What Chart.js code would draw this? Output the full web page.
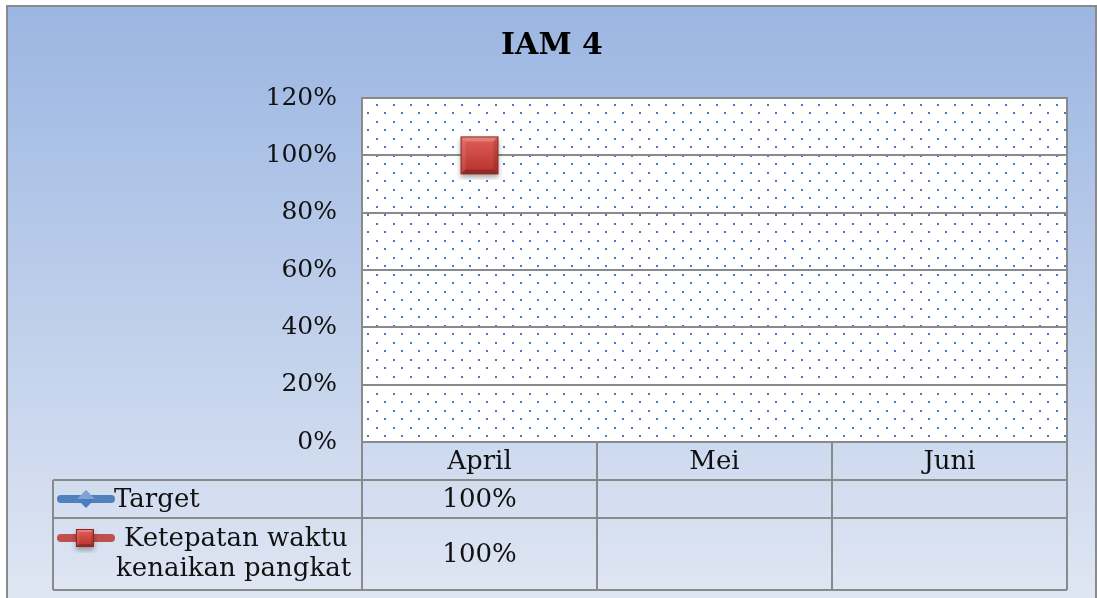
<!DOCTYPE html>
<html>
<head>
<meta charset="utf-8">
<script src="https://cdn.jsdelivr.net/npm/chart.js@4.4.1/dist/chart.umd.min.js"></script>
<style>
  html, body { margin: 0; padding: 0; background: #fff; }
  #wrap { width: 1097px; height: 598px; position: relative; }
</style>
</head>
<body>
<div id="wrap"><canvas id="iam4"></canvas></div>
<script>
// data
var chartTitle = "IAM 4";
var months = ["April", "Mei", "Juni"];
var targetValues = [100, null, null];
var ketepatanValues = [100, null, null];
var seriesNames = ["Target", ["Ketepatan waktu", "kenaikan pangkat"]];
var yTicks = [0, 20, 40, 60, 80, 100, 120];

var FONT = "'DejaVu Serif', serif";
var GRID = "#8a8a8a";
var BLUE = "rgb(79,129,189)";
var RED = "rgb(192,80,77)";

// bevelled red square marker
function redSquare(side) {
	var pad = 6;
	var c = document.createElement("canvas");
	c.width = side + pad * 2; c.height = side + pad * 2;
	var g = c.getContext("2d");
	g.save();
	g.shadowColor = "rgba(0,0,0,0.35)";
	g.shadowBlur = 5;
	g.shadowOffsetY = 3;
	g.fillStyle = "#c0392f";
	g.fillRect(pad, pad, side, side);
	g.restore();
	var grad = g.createLinearGradient(0, pad, 0, pad + side);
	grad.addColorStop(0, "#e0605a");
	grad.addColorStop(1, "#b8302c");
	g.fillStyle = grad;
	g.fillRect(pad, pad, side, side);
	var b = Math.max(2, Math.round(side / 7));
	// bevel edges
	g.fillStyle = "rgba(255,255,255,0.22)";
	g.beginPath(); g.moveTo(pad, pad); g.lineTo(pad + side, pad); g.lineTo(pad + side - b, pad + b); g.lineTo(pad + b, pad + b); g.closePath(); g.fill();
	g.fillStyle = "rgba(255,255,255,0.1)";
	g.beginPath(); g.moveTo(pad, pad); g.lineTo(pad, pad + side); g.lineTo(pad + b, pad + side - b); g.lineTo(pad + b, pad + b); g.closePath(); g.fill();
	g.fillStyle = "rgba(0,0,0,0.2)";
	g.beginPath(); g.moveTo(pad, pad + side); g.lineTo(pad + side, pad + side); g.lineTo(pad + side - b, pad + side - b); g.lineTo(pad + b, pad + side - b); g.closePath(); g.fill();
	g.fillStyle = "rgba(0,0,0,0.12)";
	g.beginPath(); g.moveTo(pad + side, pad); g.lineTo(pad + side, pad + side); g.lineTo(pad + side - b, pad + side - b); g.lineTo(pad + side - b, pad + b); g.closePath(); g.fill();
	g.strokeStyle = "#8e2420";
	g.lineWidth = 1;
	g.strokeRect(pad + 0.5, pad + 0.5, side - 1, side - 1);
	return c;
}

function blueDiamond(size) {
	var c = document.createElement("canvas");
	c.width = size; c.height = size;
	var g = c.getContext("2d");
	g.fillStyle = "#4a7cc0";
	g.beginPath(); g.moveTo(size / 2, 0); g.lineTo(size, size / 2); g.lineTo(size / 2, size); g.lineTo(0, size / 2); g.closePath(); g.fill();
	g.fillStyle = "rgba(255,255,255,0.3)";
	g.beginPath(); g.moveTo(size / 2, 0); g.lineTo(size, size / 2); g.lineTo(0, size / 2); g.closePath(); g.fill();
	return c;
}

function dotPattern(ctx) {
	var t = document.createElement("canvas");
	t.width = 17; t.height = 17;
	var g = t.getContext("2d");
	g.fillStyle = "#fff";
	g.fillRect(0, 0, 17, 17);
	g.fillStyle = "rgb(70,120,200)";
	g.fillRect(2, 2, 2, 2);
	g.fillRect(10, 10, 2, 2);
	return ctx.createPattern(t, "repeat");
}

var backdrop = {
	id: "backdrop",
	beforeDraw: function (chart) {
		var ctx = chart.ctx, a = chart.chartArea;
		ctx.save();
		var grad = ctx.createLinearGradient(0, 6, 0, chart.height);
		grad.addColorStop(0, "#9bb6e2");
		grad.addColorStop(1, "#dfe6f3");
		ctx.fillStyle = grad;
		ctx.fillRect(7, 6, 1089, chart.height);
		ctx.strokeStyle = GRID;
		ctx.lineWidth = 2;
		ctx.beginPath();
		ctx.moveTo(7, chart.height); ctx.lineTo(7, 6); ctx.lineTo(1096, 6); ctx.lineTo(1096, chart.height);
		ctx.stroke();
		ctx.fillStyle = dotPattern(ctx);
		ctx.fillRect(a.left, a.top, a.right - a.left, a.bottom - a.top);
		// title
		ctx.fillStyle = "#000";
		ctx.font = "bold 30px " + FONT;
		ctx.textAlign = "center";
		ctx.textBaseline = "middle";
		ctx.fillText(chartTitle, 552, 46);
		ctx.restore();
	},
	afterDatasetsDraw: function (chart) {
		var ctx = chart.ctx, a = chart.chartArea;
		ctx.save();
		ctx.strokeStyle = GRID;
		ctx.lineWidth = 2;
		ctx.strokeRect(a.left, a.top, a.right - a.left, a.bottom - a.top);
		ctx.restore();
	}
};

// data table under the plot
var dataTable = {
	id: "dataTable",
	afterDraw: function (chart) {
		var ctx = chart.ctx, a = chart.chartArea;
		var colW = (a.right - a.left) / months.length;
		var leftX = 53;
		var rows = [a.bottom, a.bottom + 38, a.bottom + 76, a.bottom + 148];
		var series = [targetValues, ketepatanValues];
		ctx.save();
		ctx.strokeStyle = GRID;
		ctx.lineWidth = 2;
		ctx.beginPath();
		ctx.moveTo(a.left, rows[0]); ctx.lineTo(a.left, rows[3]);
		for (var i = 1; i <= months.length; i++) {
			ctx.moveTo(a.left + colW * i, rows[0]); ctx.lineTo(a.left + colW * i, rows[3]);
		}
		ctx.moveTo(leftX, rows[1]); ctx.lineTo(a.right, rows[1]);
		ctx.moveTo(leftX, rows[2]); ctx.lineTo(a.right, rows[2]);
		ctx.moveTo(leftX, rows[3]); ctx.lineTo(a.right, rows[3]);
		ctx.moveTo(leftX, rows[1]); ctx.lineTo(leftX, rows[3]);
		ctx.stroke();

		ctx.fillStyle = "#111";
		ctx.font = "26px " + FONT;
		ctx.textAlign = "center";
		ctx.textBaseline = "middle";
		months.forEach(function (m, i) {
			ctx.fillText(m, chart.scales.x.getPixelForValue(i), (rows[0] + rows[1]) / 2 + 1);
		});
		series.forEach(function (vals, s) {
			var cy = (rows[s + 1] + rows[s + 2]) / 2 + 1;
			vals.forEach(function (v, i) {
				if (v !== null) ctx.fillText(v + "%", chart.scales.x.getPixelForValue(i), cy);
			});
		});

		// legend keys
		ctx.lineCap = "round";
		ctx.lineWidth = 8;
		var ky1 = (rows[1] + rows[2]) / 2, ky2 = rows[2] + 20;
		ctx.strokeStyle = BLUE;
		ctx.beginPath(); ctx.moveTo(61, ky1); ctx.lineTo(111, ky1); ctx.stroke();
		ctx.drawImage(blueDiamond(18), 77, ky1 - 9);
		ctx.strokeStyle = RED;
		ctx.beginPath(); ctx.moveTo(61, ky2); ctx.lineTo(111, ky2); ctx.stroke();
		ctx.drawImage(redSquare(18), 76 - 6, ky2 - 9 - 6);

		ctx.fillStyle = "#111";
		ctx.textAlign = "left";
		ctx.fillText(seriesNames[0], 114, ky1 + 1);
		ctx.fillText(seriesNames[1][0], 124, ky2 + 1);
		ctx.fillText(seriesNames[1][1], 116, ky2 + 31);
		ctx.restore();
	}
};

new Chart(document.getElementById("iam4"), {
	type: "line",
	data: {
		labels: months,
		datasets: [{
			label: "Target",
			data: targetValues,
			borderColor: BLUE,
			borderWidth: 4,
			pointStyle: blueDiamond(20),
			order: 1
		}, {
			label: "Ketepatan waktu kenaikan pangkat",
			data: ketepatanValues,
			borderColor: RED,
			borderWidth: 4,
			pointStyle: redSquare(38),
			order: 0
		}]
	},
	options: {
		responsive: true,
		maintainAspectRatio: false,
		animation: false,
		layout: { padding: { left: 0, right: 30, top: 98, bottom: 156 } },
		plugins: {
			legend: { display: false },
			tooltip: { enabled: false },
			title: { display: false }
		},
		scales: {
			x: {
				offset: true,
				grid: { display: false, drawTicks: false },
				border: { display: false },
				ticks: { display: false }
			},
			y: {
				min: 0,
				max: 120,
				afterFit: function (s) { s.width = 362; },
				afterBuildTicks: function (s) { s.ticks = yTicks.map(function (v) { return { value: v }; }); },
				grid: { color: GRID, lineWidth: 2, drawTicks: false },
				border: { display: true, color: GRID, width: 2 },
				ticks: {
					padding: 25,
					color: "#111",
					font: { family: FONT, size: 25 },
					callback: function (v) { return v + "%"; }
				}
			}
		}
	},
	plugins: [backdrop, dataTable]
});
</script>
</body>
</html>
